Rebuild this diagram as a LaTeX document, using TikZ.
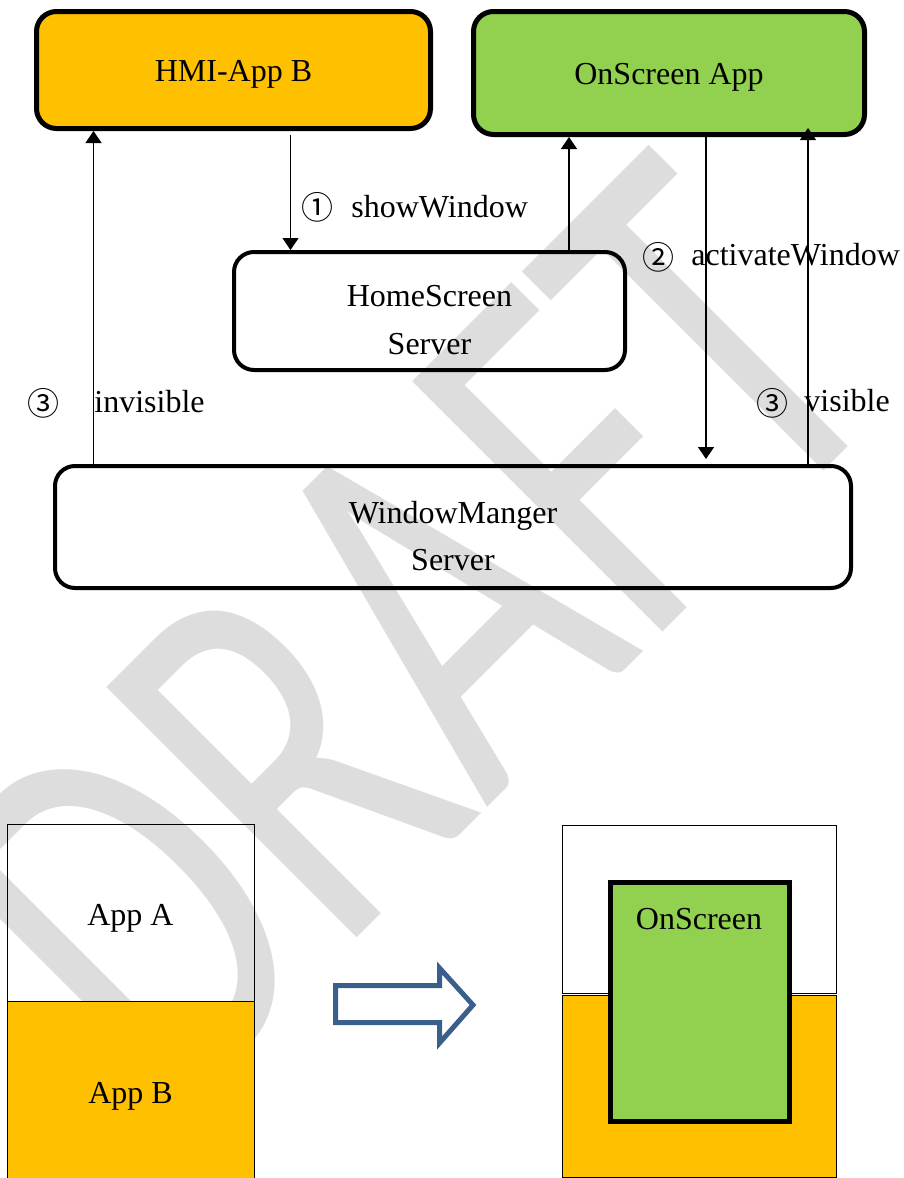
\documentclass[tikz,border=0pt]{standalone}
\usepackage{fontspec}
\setmainfont{Liberation Serif}
\newfontfamily\cjkfont{Noto Sans CJK SC}
\newfontfamily\wmfont{Carlito}
\usetikzlibrary{arrows.meta}
\definecolor{apporange}{HTML}{FFC000}
\definecolor{appgreen}{HTML}{92D050}
\definecolor{arrowblue}{RGB}{58,95,140}
\definecolor{wmgray}{HTML}{DDDDDD}
\begin{document}
\begin{tikzpicture}[x=0.5pt,y=-0.5pt,
  every node/.style={font=\fontsize{16}{19}\selectfont},
  topbox/.style={draw, rounded corners=10pt, line width=2.5pt, inner sep=0pt, text height=11pt, text depth=0pt},
  srvbox/.style={draw, rounded corners=10pt, line width=2pt, inner sep=0pt},
  srvtext/.style={inner sep=0pt, anchor=base},
  flow/.style={line width=0.7pt, -{Triangle[length=6pt,width=8pt]}},
  circ/.style={inner sep=0pt, font=\cjkfont\fontsize{16}{19}\selectfont},
  lbl/.style={inner sep=0pt, anchor=base west},
  plainrect/.style={draw, line width=0.5pt, inner sep=0pt, text depth=0pt},
]
\useasboundingbox (0,0) rectangle (904,1178);
\clip (0,0) rectangle (904,1178);

% watermark (rotated 45 degrees, condensed along the baseline)
\node[anchor=base west, cm={0.495,0.495,-0.707,0.707,(0,0)}, inner sep=0pt, text=wmgray,
      font=\wmfont\fontsize{276}{276}\selectfont] (draft) at (169.5,1125.5) {DRAFT};

% top boxes
\node[topbox, fill=apporange, minimum width=197pt, minimum height=58.5pt] (hmi) at (233.5,70) {HMI-App B};
\node[topbox, fill=appgreen, minimum width=195.5pt, minimum height=61.5pt] (os) at (669,73) {OnScreen App};
\node[srvbox, minimum width=195.5pt, minimum height=59pt] (hs) at (429.5,311) {};
\node[srvtext] (hst1) at (429.5,306.5) {HomeScreen};
\node[srvtext] (hst2) at (429.5,354) {Server};
\node[srvbox, minimum width=398pt, minimum height=61pt] (wmgr) at (453,527) {};
\node[srvtext] (wmt1) at (453,523) {WindowManger};
\node[srvtext] (wmt2) at (453,570.5) {Server};

% arrow columns
\coordinate (c1) at (290.5,0);
\coordinate (c2) at (569,0);
\coordinate (c3) at (706,0);
\coordinate (c4) at (808,0);
\coordinate (c5) at (93.5,0);

\draw[flow, shorten <=2pt] (hmi.south -| c1) -- (hs.north -| c1);
\draw[flow] (hs.north -| c2) -- (os.south -| c2);
\draw[flow, shorten >=2.5pt] (os.south -| c3) -- (wmgr.north -| c3);
\draw[flow, shorten >=-4.5pt] (wmgr.north -| c4) -- (os.south -| c4);
\draw[flow] (wmgr.north -| c5) -- (hmi.south -| c5);

% labels
\node[circ] (n1) at (317.5,207.5) {①};
\node[lbl] (l1) at (351,217) {showWindow};
\node[circ] (n2) at (658,257) {②};
\node[lbl] (l2) at (691,265) {activateWindow};
\node[circ] (n3a) at (43,403) {③};
\node[lbl] (l3a) at (94,412) {invisible};
\node[circ] (n3b) at (772,403) {③};
\node[lbl] (l3b) at (804,411) {visible};

% bottom left
\node[plainrect, minimum width=123.5pt, minimum height=88.5pt, text height=12.5pt] (appa) at (130.5,912.5) {App A};
\node[plainrect, fill=apporange, minimum width=123.5pt, minimum height=92pt, text height=10pt] (appb) at (130.5,1093) {App B};

% hollow arrow
\draw[arrowblue, line width=2.5pt, line join=miter]
  (335.5,985.5) -- (439.5,985.5) -- (439.5,968) -- (473,1005) -- (439.5,1043)
  -- (439.5,1022.5) -- (335.5,1022.5) -- cycle;

% bottom right
\node[plainrect, minimum width=137pt, minimum height=84pt] (scra) at (699,909) {};
\node[plainrect, fill=apporange, minimum width=137pt, minimum height=91pt] (scrb) at (699,1086) {};
\node[draw, fill=appgreen, line width=2.5pt, inner sep=0pt, minimum width=89.5pt, minimum height=119.5pt] (onscr) at (700,1002) {};
\node[inner sep=0pt, anchor=base] (onscrt) at (699,929) {OnScreen};
\end{tikzpicture}
\end{document}
